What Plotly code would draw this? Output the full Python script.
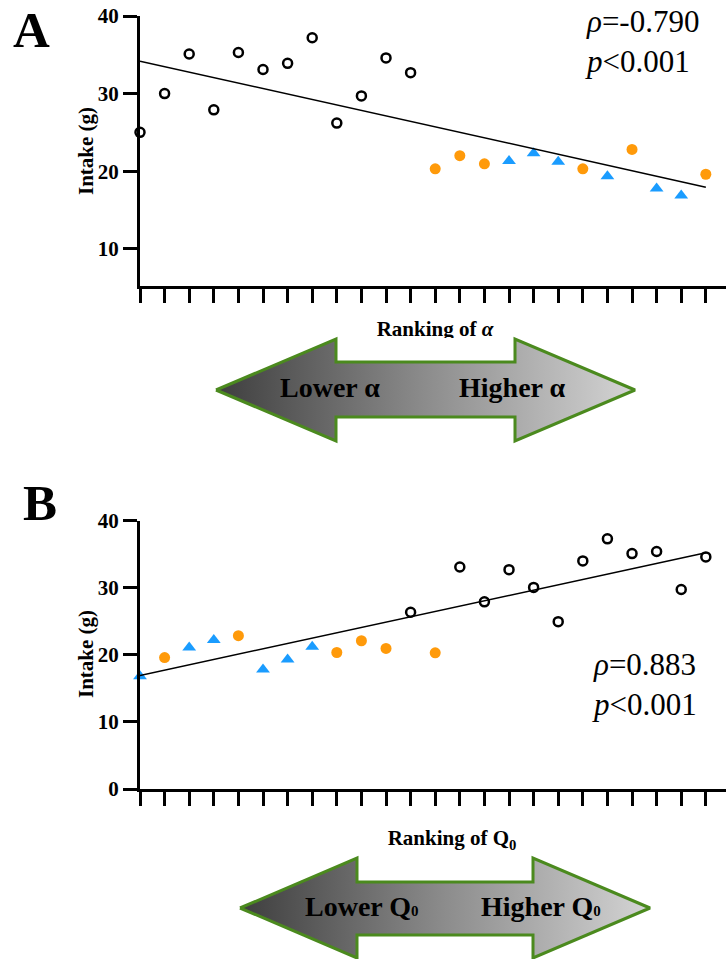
import numpy as np
import plotly.graph_objects as go

W, H = 726, 959

# ---------------- data ----------------
ranks = list(range(1, 25))

alpha_intake = [25.0, 30.0, 35.1, 27.9, 35.3, 33.1, 33.9, 37.2, 26.2, 29.7, 34.6, 32.7,
                20.3, 22.0, 20.95, 21.3, 22.3, 21.2, 20.3, 19.35, 22.8, 17.75, 16.85, 19.6]
alpha_group = ["open"] * 12 + ["orange", "orange", "orange", "blue", "blue", "blue",
                               "orange", "blue", "orange", "blue", "blue", "orange"]

q0_intake = [16.8, 19.6, 21.1, 22.2, 22.85, 17.8, 19.3, 21.2, 20.35, 22.1, 20.95, 26.35,
             20.3, 33.1, 27.9, 32.7, 30.05, 24.95, 34.0, 37.3, 35.1, 35.4, 29.75, 34.6]
q0_group = ["blue", "orange", "blue", "blue", "orange", "blue", "blue", "blue", "orange",
            "orange", "orange", "open", "orange"] + ["open"] * 11

alpha_stats = ["<i>ρ</i>=-0.790", "<i>p</i>&lt;0.001"]
q0_stats = ["<i>ρ</i>=0.883", "<i>p</i>&lt;0.001"]

alpha_yticks = [10, 20, 30, 40]
q0_yticks = [0, 10, 20, 30, 40]

# ---------------- styles ----------------
SERIF = "Liberation Serif"
ORANGE = "#ff9a0a"
BLUE = "#1a9cff"
GREEN = "#4b8a1e"

marker_styles = {
    "open": dict(symbol="circle-open", size=9, color="black", line=dict(width=2.5, color="black")),
    "orange": dict(symbol="circle", size=11, color=ORANGE, line=dict(width=0)),
    "blue": dict(symbol="triangle-up", size=12, color=BLUE, line=dict(width=0)),
}


def px_x(p):
    return p / W


def px_y(p):
    return 1 - p / H


fig = go.Figure()


def add_panel(xref, yref, intake, groups):
    for g in ["open", "orange", "blue"]:
        xs = [r for r, gg in zip(ranks, groups) if gg == g]
        ys = [v for v, gg in zip(intake, groups) if gg == g]
        fig.add_trace(go.Scatter(x=xs, y=ys, mode="markers", marker=marker_styles[g],
                                 xaxis=xref, yaxis=yref, cliponaxis=False,
                                 showlegend=False, hoverinfo="skip"))
    slope, icpt = np.polyfit(ranks, intake, 1)
    lx = [ranks[0], ranks[-1]]
    fig.add_trace(go.Scatter(x=lx, y=[slope * v + icpt for v in lx], mode="lines",
                             line=dict(color="black", width=1.5), xaxis=xref, yaxis=yref,
                             cliponaxis=False, showlegend=False, hoverinfo="skip"))


add_panel("x", "y", alpha_intake, alpha_group)
add_panel("x2", "y2", q0_intake, q0_group)


# ---------------- decorative arrows (pixel overlay axis) ----------------
def arrow_poly(x_tip_l, x_sh_l, x_sh_r, x_tip_r, y_head_t, y_shaft_t, y_shaft_b, y_head_b):
    yc = (y_head_t + y_head_b) / 2
    xs = [x_tip_l, x_sh_l, x_sh_l, x_sh_r, x_sh_r, x_tip_r, x_sh_r, x_sh_r, x_sh_l, x_sh_l, x_tip_l]
    ys = [yc, y_head_t, y_shaft_t, y_shaft_t, y_head_t, yc, y_head_b, y_shaft_b, y_shaft_b, y_head_b, yc]
    return xs, ys


def add_text_trace(x, y, text):
    fig.add_trace(go.Scatter(x=[x], y=[y], mode="text", text=[text], textposition="middle center",
                             textfont=dict(family=SERIF, size=21, color="black", weight="bold"),
                             xaxis="x3", yaxis="y3", cliponaxis=False,
                             showlegend=False, hoverinfo="skip"))


def add_arrow(geom):
    xs, ys = arrow_poly(*geom)
    fig.add_trace(go.Scatter(x=xs, y=ys, mode="lines", fill="toself",
                             fillgradient=dict(type="horizontal",
                                               colorscale=[[0, "#3e3e3e"], [0.5, "#8c8c8c"], [1, "#d4d4d4"]]),
                             line=dict(color=GREEN, width=3), xaxis="x3", yaxis="y3",
                             cliponaxis=False, showlegend=False, hoverinfo="skip"))


# panel A axis title partly hidden behind the arrow picture's white box
add_text_trace(435, 331, "Ranking of <i>α</i>")
fig.add_trace(go.Scatter(x=[205, 650, 650, 205, 205], y=[338, 338, 446, 446, 338], mode="lines",
                         fill="toself", fillcolor="white", line=dict(width=0),
                         xaxis="x3", yaxis="y3", showlegend=False, hoverinfo="skip"))
add_arrow((216, 336, 515, 635, 339, 362, 417, 441))

add_text_trace(452, 840, "Ranking of Q<sub>0</sub>")
add_arrow((240, 357, 533, 650, 858, 882, 935, 958))

# ---------------- axes ----------------
x0 = px_x(140)
common_x = dict(domain=[x0, 1], range=[1, 24.82], tickvals=ranks, showticklabels=False,
                ticks="outside", ticklen=14, tickwidth=3, tickcolor="black",
                showline=True, linewidth=3, linecolor="black", showgrid=False, zeroline=False,
                fixedrange=True)
common_y = dict(ticks="outside", ticklen=14, tickwidth=3, tickcolor="black",
                showline=True, linewidth=3, linecolor="black", showgrid=False, zeroline=False,
                tickfont=dict(family=SERIF, size=21, color="black", weight="bold"),
                ticklabelstandoff=0, fixedrange=True)

fig.update_layout(
    width=W, height=H, margin=dict(l=0, r=0, t=0, b=0, pad=0, autoexpand=False),
    paper_bgcolor="white", plot_bgcolor="rgba(0,0,0,0)",
    xaxis=dict(common_x, anchor="y"),
    yaxis=dict(common_y, anchor="x", domain=[px_y(285.5), px_y(16)], range=[5.26, 40],
               tickvals=alpha_yticks),
    xaxis2=dict(common_x, anchor="y2"),
    yaxis2=dict(common_y, anchor="x2", domain=[px_y(789), px_y(520.7)], range=[0, 40],
                tickvals=q0_yticks),
    xaxis3=dict(domain=[0, 1], range=[0, W], visible=False, anchor="y3", fixedrange=True),
    yaxis3=dict(domain=[0, 1], range=[H, 0], visible=False, anchor="x3", fixedrange=True),
    showlegend=False,
)

ann = []


def add_ann(x, y, text, size, bold=False, xanchor="center", yanchor="middle",
            angle=0, align="center"):
    ann.append(dict(x=px_x(x), y=px_y(y), xref="paper", yref="paper", text=text, showarrow=False,
                    xanchor=xanchor, yanchor=yanchor, textangle=angle, align=align,
                    font=dict(family=SERIF, size=size, color="black",
                              weight="bold" if bold else "normal")))


add_ann(31.5, 30, "A", 51, bold=True)
add_ann(39.5, 502.5, "B", 51, bold=True)
add_ann(86, 151, "Intake (g)", 21, bold=True, angle=-90)
add_ann(86, 654, "Intake (g)", 21, bold=True, angle=-90)
add_ann(583, 42, "<br>".join(alpha_stats), 31, xanchor="left", align="left")
add_ann(590, 684, "<br>".join(q0_stats), 31, xanchor="left", align="left")
add_ann(330, 388, "Lower α", 28, bold=True)
add_ann(512, 388, "Higher α", 28, bold=True)
add_ann(361.5, 906, "Lower Q<span style='font-size:15px'>0</span>", 28, bold=True)
add_ann(540.5, 906, "Higher Q<span style='font-size:15px'>0</span>", 28, bold=True)
fig.update_layout(annotations=ann)

fig.write_html("out.html", config={"displayModeBar": False},
               post_script="document.body.style.margin='0';document.body.style.padding='0';"
                           "document.documentElement.style.overflow='hidden';")
